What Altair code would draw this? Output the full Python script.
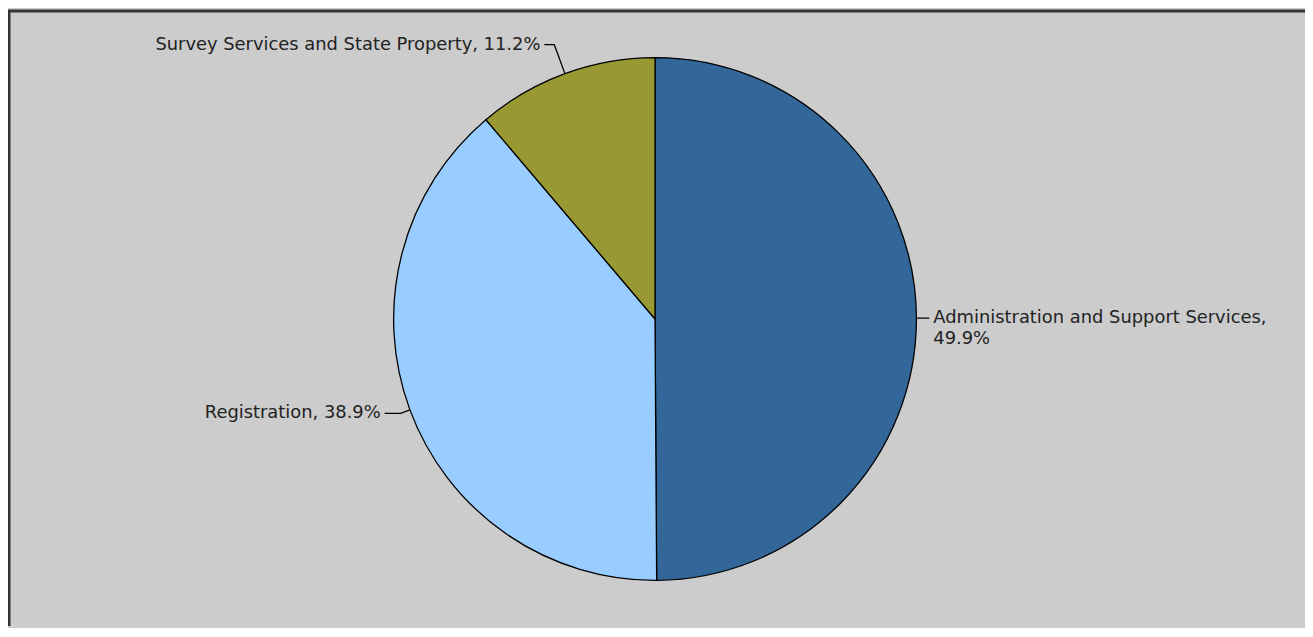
import math
import altair as alt
import pandas as pd

# ---- data ----
categories = ["Administration and Support Services", "Registration",
              "Survey Services and State Property"]
shares = [49.9, 38.9, 11.2]
colors = ["#336699", "#99ccff", "#999933"]
# label line breaks (text content only)
label_breaks = {"Administration and Support Services": True}

# ---- layout ----
W, H = 1305, 620
CX, CY, R = 651, 311, 263
radial_ext = {"Administration and Support Services": 6,
              "Registration": 10,
              "Survey Services and State Property": 31}
horiz_ext = {"Administration and Support Services": 7,
             "Registration": 16,
             "Survey Services and State Property": 10}
GAP = 4

total = sum(shares)
rows, line_rows, text_rows = [], [], []
cum = 0.0
for i, (c, s) in enumerate(zip(categories, shares)):
    rows.append({"category": c, "share": s, "idx": i})
    mid = (cum + s / 2) / total * 2 * math.pi
    cum += s
    sx, sy = math.sin(mid), -math.cos(mid)
    p0 = (CX + R * sx, CY + R * sy)
    p1 = (CX + (R + radial_ext[c]) * sx, CY + (R + radial_ext[c]) * sy)
    side = 1 if sx >= 0 else -1
    p2 = (p1[0] + side * horiz_ext[c], p1[1])
    for k, p in enumerate([p0, p1, p2]):
        line_rows.append({"category": c, "k": k, "lx": p[0], "ly": p[1]})
    pct = f"{s:.1f}%"
    label = [f"{c},", pct] if label_breaks.get(c) else f"{c}, {pct}"
    text_rows.append({"category": c, "tx": p2[0] + side * GAP, "ty": p2[1],
                      "label": label, "align": "left" if side > 0 else "right"})

pie_df = pd.DataFrame(rows)
line_df = pd.DataFrame(line_rows)
text_df = pd.DataFrame(text_rows)

pie = alt.Chart(pie_df).mark_arc(radius=R, stroke="#000000", strokeWidth=1.3).encode(
    theta=alt.Theta("share:Q", stack=True),
    color=alt.Color("category:N", scale=alt.Scale(domain=categories, range=colors), legend=None),
    order=alt.Order("idx:Q"),
    x=alt.value(CX),
    y=alt.value(CY),
)

leaders = alt.Chart(line_df).mark_line(color="#000000", strokeWidth=1.3).encode(
    x=alt.X("lx:Q", scale=None, axis=None),
    y=alt.Y("ly:Q", scale=None, axis=None),
    detail="category:N",
    order="k:Q",
)

font = dict(font="DejaVu Sans", fontSize=18, color="#222222", baseline="middle", lineHeight=21)
txt_left = alt.Chart(text_df[text_df["align"] == "left"]).mark_text(align="left", **font).encode(
    x=alt.X("tx:Q", scale=None, axis=None),
    y=alt.Y("ty:Q", scale=None, axis=None),
    text="label",
)
txt_right = alt.Chart(text_df[text_df["align"] == "right"]).mark_text(align="right", **font).encode(
    x=alt.X("tx:Q", scale=None, axis=None),
    y=alt.Y("ty:Q", scale=None, axis=None),
    text="label",
)

border_df = pd.DataFrame({"b": [0]})
left_border = alt.Chart(border_df).mark_rule(color="#333333", strokeWidth=3).encode(
    x=alt.value(1), y=alt.value(0), y2=alt.value(H))
top_border = alt.Chart(border_df).mark_rule(color="#333333", strokeWidth=3).encode(
    x=alt.value(0), x2=alt.value(W), y=alt.value(1))

chart = alt.layer(pie, leaders, txt_left, txt_right, left_border, top_border).properties(
    width=W, height=H, background="#cccccc", padding=0,
    autosize=alt.AutoSizeParams(type="none"),
).configure_view(stroke=None)

chart.save("out.html", embed_options={"renderer": "svg", "actions": False})
